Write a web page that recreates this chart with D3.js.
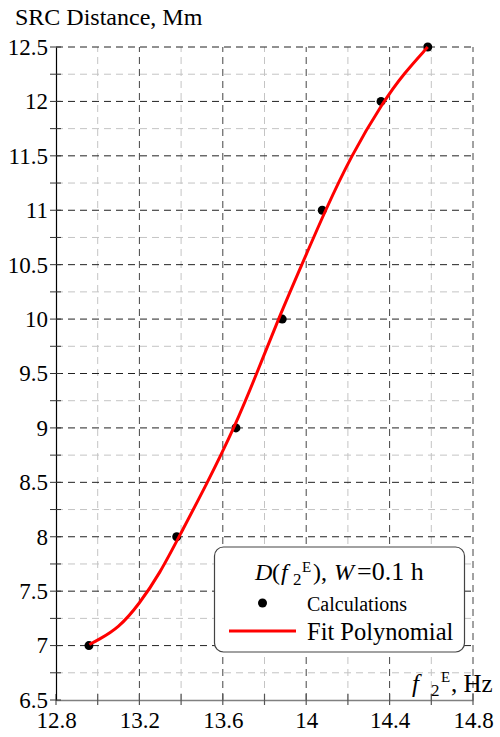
<!DOCTYPE html>
<html><head><meta charset="utf-8">
<script src="https://cdn.jsdelivr.net/npm/d3@7"></script>
<style>body{margin:0;background:#fff;} svg{display:block;} text{font-family:"Liberation Serif","Times New Roman","DejaVu Serif",serif;}</style>
</head><body>
<script>
// Data
const calcFreq = [12.958, 13.379, 13.663, 13.885, 14.077, 14.359, 14.583];
const calcDist = [7, 8, 9, 10, 11, 12, 12.5];
// Fit polynomial curve
const fitFreq = [12.96, 13.0, 13.1, 13.2, 13.3, 13.39, 13.527, 13.655, 13.763, 13.866, 13.979, 14.092, 14.215, 14.37, 14.47, 14.583];
const fitDist = [7.01, 7.05, 7.16, 7.383, 7.67, 8.0, 8.5, 9.0, 9.5, 10.0, 10.5, 11.0, 11.5, 12.0, 12.26, 12.5];
const xTicks = [12.8, 13.2, 13.6, 14, 14.4, 14.8];
const xMinor = [13.0, 13.4, 13.8, 14.2, 14.6];
const yTicks = [6.5, 7, 7.5, 8, 8.5, 9, 9.5, 10, 10.5, 11, 11.5, 12, 12.5];
const yMinor = [6.75, 7.25, 7.75, 8.25, 8.75, 9.25, 9.75, 10.25, 10.75, 11.25, 11.75, 12.25];

const W = 500, H = 737;
const FF = '"Liberation Serif","Times New Roman","DejaVu Serif",serif';
const svg = d3.select("body").append("svg").attr("width", W).attr("height", H)
  .attr("font-family", FF);

const x = d3.scaleLinear().domain([12.8, 14.8]).range([56, 473]);
const y = d3.scaleLinear().domain([6.5, 12.5]).range([700, 47]);

// minor grid
const g = svg.append("g");
g.selectAll(".vmin").data(xMinor).join("line")
  .attr("x1", d => x(d)).attr("x2", d => x(d)).attr("y1", y(6.5)).attr("y2", y(12.5))
  .attr("stroke", "#c4c4c4").attr("stroke-width", 1).attr("stroke-dasharray", "7,5");
g.selectAll(".hmin").data(yMinor).join("line")
  .attr("x1", x(12.8)).attr("x2", x(14.8)).attr("y1", d => y(d)).attr("y2", d => y(d))
  .attr("stroke", "#c4c4c4").attr("stroke-width", 1).attr("stroke-dasharray", "7,5");
// major grid
g.selectAll(".vmaj").data(xTicks.slice(1)).join("line")
  .attr("x1", d => x(d)).attr("x2", d => x(d)).attr("y1", y(6.5)).attr("y2", y(12.5))
  .attr("stroke", "#444").attr("stroke-width", 1).attr("stroke-dasharray", "7,5");
g.selectAll(".hmaj").data(yTicks.slice(1)).join("line")
  .attr("x1", x(12.8)).attr("x2", x(14.8)).attr("y1", d => y(d)).attr("y2", d => y(d))
  .attr("stroke", "#222").attr("stroke-width", 1).attr("stroke-dasharray", "7,5");

// axes
const xAxis = d3.axisBottom(x).tickValues(xTicks).tickFormat(d3.format("")).tickSize(0).tickPadding(12);
const xg = svg.append("g").attr("transform", `translate(0,${y(6.5)})`).call(xAxis)
  .attr("font-family", FF).attr("font-size", 23);
xg.select(".domain").attr("stroke", "#808080").attr("stroke-width", 1.3);
xg.selectAll("text").attr("fill", "#000");
svg.append("g").selectAll("line").data(xTicks.concat(xMinor)).join("line")
  .attr("x1", d => x(d)).attr("x2", d => x(d)).attr("y1", y(6.5) + 5).attr("y2", y(6.5) - 6)
  .attr("stroke", "#555").attr("stroke-width", 1.2);

const yAxis = d3.axisLeft(y).tickValues(yTicks).tickFormat(d3.format("")).tickSize(0).tickPadding(8);
const yg = svg.append("g").attr("transform", `translate(${x(12.8)},0)`).call(yAxis)
  .attr("font-family", FF).attr("font-size", 23);
yg.select(".domain").attr("stroke", "#000").attr("stroke-width", 1.2);
yg.selectAll("text").attr("fill", "#000");
svg.append("g").selectAll("line").data(yTicks.concat(yMinor)).join("line")
  .attr("x1", x(12.8) - 6).attr("x2", x(12.8) + 5).attr("y1", d => y(d)).attr("y2", d => y(d))
  .attr("stroke", "#333").attr("stroke-width", 1);

// y axis title
svg.append("text").attr("x", 15).attr("y", 25).attr("font-size", 24).text("SRC Distance, Mm");
// x axis title
const xt = svg.append("text").attr("y", 692).attr("font-size", 25);
xt.append("tspan").attr("x", 412).attr("font-style", "italic").text("f");
xt.append("tspan").attr("x", 431).attr("font-size", 17).attr("dy", 4).text("2");
xt.append("tspan").attr("x", 441).attr("font-size", 15).attr("dy", -14).text("E");
xt.append("tspan").attr("x", 451).attr("dy", 10).text(", Hz");

// data points
const pts = calcFreq.map((f, i) => [f, calcDist[i]]);
svg.append("g").selectAll("circle").data(pts).join("circle")
  .attr("cx", d => x(d[0])).attr("cy", d => y(d[1])).attr("r", 4.5).attr("fill", "#000");

// fit curve
const fit = fitFreq.map((f, i) => [f, fitDist[i]]);
svg.append("path").datum(fit)
  .attr("d", d3.line().x(d => x(d[0])).y(d => y(d[1])).curve(d3.curveBasis))
  .attr("fill", "none").attr("stroke", "#ff0000").attr("stroke-width", 3);

// legend
const lg = svg.append("g");
lg.append("rect").attr("x", 214.5).attr("y", 547).attr("width", 250).attr("height", 105)
  .attr("rx", 9).attr("fill", "#fff").attr("stroke", "#444").attr("stroke-width", 1.2);
const lt = lg.append("text").attr("y", 580).attr("font-size", 24);
lt.append("tspan").attr("x", 255).attr("font-style", "italic").text("D");
lt.append("tspan").attr("x", 272).text("(");
lt.append("tspan").attr("x", 281).attr("font-style", "italic").text("f");
lt.append("tspan").attr("x", 293).attr("font-size", 17).attr("dy", 5).text("2");
lt.append("tspan").attr("x", 302).attr("font-size", 15).attr("dy", -13).text("E");
lt.append("tspan").attr("x", 313).attr("dy", 8).text("),");
lt.append("tspan").attr("x", 334).attr("font-style", "italic").text("W");
lt.append("tspan").attr("x", 357).attr("font-size", 26).text("=0.1 h");
lg.append("circle").attr("cx", 262.5).attr("cy", 603).attr("r", 4.5).attr("fill", "#000");
lg.append("text").attr("x", 307).attr("y", 611).attr("font-size", 20).text("Calculations");
lg.append("line").attr("x1", 229).attr("x2", 296).attr("y1", 631).attr("y2", 631)
  .attr("stroke", "#ff0000").attr("stroke-width", 3);
lg.append("text").attr("x", 307).attr("y", 640).attr("font-size", 24.5).text("Fit Polynomial");
</script>
</body></html>
